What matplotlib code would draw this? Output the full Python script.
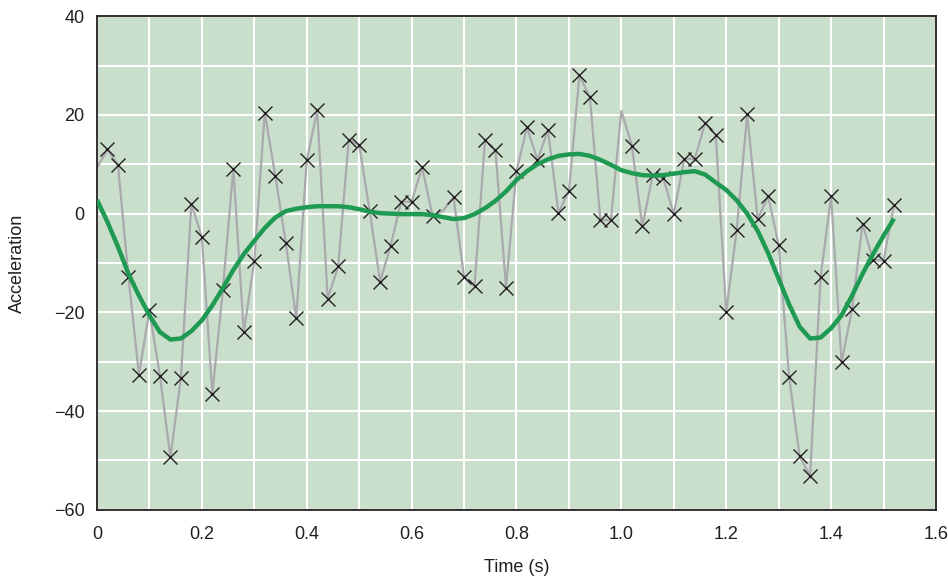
import numpy as np
import matplotlib
matplotlib.use('Agg')
import matplotlib.pyplot as plt

plt.rcParams['font.family'] = ['Liberation Sans', 'DejaVu Sans']

# データ (0.02 s 間隔)
time_step = 0.02
accel_raw = [
    9.3, 13.0, 9.9, -12.8, -32.6, -19.6, -32.8, -49.4, -33.3, 2.0,
    -4.8, -36.5, -15.5, 9.1, -24.0, -9.6, 20.4, 7.7, -5.9, -21.2,
    10.8, 20.9, -17.2, -10.7, 14.9, 14.0, 0.6, -13.8, -6.5, 2.4,
    2.4, 9.4, -0.5, 0.6, 3.3, -12.8, -14.7, 14.9, 12.8, -15.0,
    8.6, 17.5, 10.9, 16.9, 0.2, 4.5, 28.0, 23.6, -1.3, -1.3,
    20.8, 13.8, -2.6, 7.9, 7.2, -0.1, 11.1, 11.1, 18.4, 16.0,
    -19.9, -3.3, 20.1, -1.1, 3.5, -6.3, -33.1, -49.2, -53.1, -12.8,
    3.5, -30.1, -19.4, -2.1, -9.4, -9.5, 1.8,
]
# 点が描かれていないサンプル
no_marker = [0, 33, 50]

accel_smooth = [
    2.8, -1.7, -6.7, -12.2, -16.6, -20.6, -24.0, -25.5, -25.3, -23.8,
    -21.6, -18.6, -15.1, -11.4, -8.2, -5.5, -2.9, -0.8, 0.5, 1.0,
    1.3, 1.5, 1.5, 1.5, 1.3, 0.9, 0.4, 0.1, 0.0, -0.1,
    -0.1, -0.1, -0.3, -0.7, -1.1, -0.9, -0.1, 1.1, 2.6, 4.5,
    6.8, 8.6, 10.0, 11.0, 11.7, 12.0, 12.1, 11.7, 10.9, 9.9,
    8.8, 8.2, 7.8, 7.7, 7.8, 8.1, 8.4, 8.6, 7.9, 6.3,
    4.8, 2.7, 0.0, -3.5, -8.0, -13.2, -18.4, -22.9, -25.3, -25.1,
    -23.2, -20.6, -16.6, -12.2, -8.2, -4.5, -1.0,
]

x_ticks = [0, 0.2, 0.4, 0.6, 0.8, 1.0, 1.2, 1.4, 1.6]
x_tick_labels = ['0', '0.2', '0.4', '0.6', '0.8', '1.0', '1.2', '1.4', '1.6']
y_ticks = [-60, -40, -20, 0, 20, 40]
y_tick_labels = ['\u221260', '\u221240', '\u221220', '0', '20', '40']

t = np.arange(len(accel_raw)) * time_step
raw = np.array(accel_raw)
marked = np.ones(len(raw), dtype=bool)
marked[no_marker] = False

fig = plt.figure(figsize=(9.48, 5.78), dpi=100)
ax = fig.add_axes([0.1023, 0.118, 0.885, 0.854])
ax.set_facecolor('#cadfcb')

ax.plot(t, raw, color='#a9a9ae', lw=1.6, zorder=2)
ax.plot(t[marked], raw[marked], ls='none', marker='x', ms=10, mew=1.0,
        color='#231f20', zorder=3)
ax.plot(t, accel_smooth, color='#1f9a52', lw=3.2, zorder=4,
        solid_capstyle='butt', solid_joinstyle='round')

ax.set_xlim(0, 1.6)
ax.set_ylim(-60, 40)
ax.set_xticks(x_ticks)
ax.set_xticklabels(x_tick_labels)
ax.set_yticks(y_ticks)
ax.set_yticklabels(y_tick_labels)
ax.set_xticks(np.arange(0, 1.61, 0.1), minor=True)
ax.set_yticks(np.arange(-60, 41, 10), minor=True)
ax.grid(which='both', color='white', lw=1.5, zorder=1)
ax.set_axisbelow(True)
ax.tick_params(which='both', length=0, labelsize=13, colors='#231f20')
ax.tick_params(axis='x', pad=12)
ax.tick_params(axis='y', pad=9)

for s in ax.spines.values():
    s.set_color('#231f20')
    s.set_linewidth(1.3)

ax.set_xlabel('Time (s)', fontsize=13, color='#231f20', labelpad=11)
ax.set_ylabel('Acceleration', fontsize=13, color='#231f20', labelpad=20)

fig.savefig('out.png', dpi=100)
